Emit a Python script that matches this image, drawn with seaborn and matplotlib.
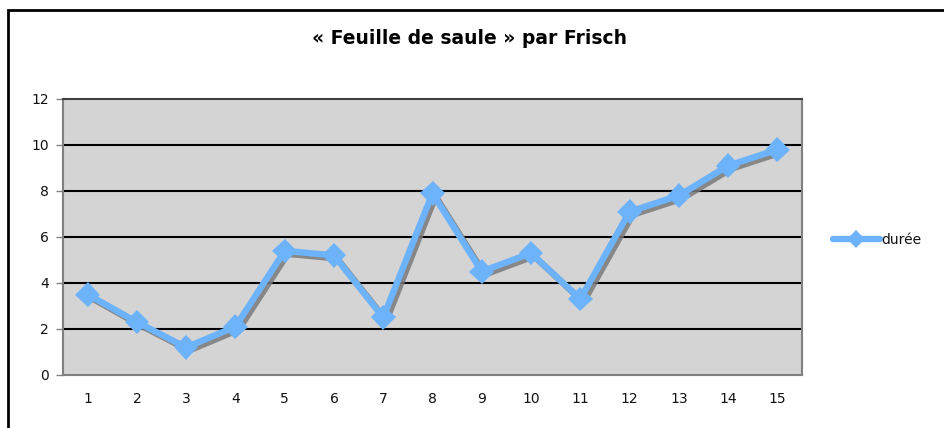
import matplotlib
matplotlib.use("Agg")
import matplotlib.pyplot as plt
import matplotlib.patheffects as pe
from matplotlib.ticker import FixedLocator
from matplotlib.patches import Rectangle
from matplotlib.lines import Line2D
import seaborn as sns
import pandas as pd

categories = list(range(1, 16))
duree = [3.5, 2.3, 1.2, 2.1, 5.4, 5.2, 2.5, 7.9, 4.5, 5.3, 3.3, 7.1, 7.8, 9.1, 9.8]
yticks = [0, 2, 4, 6, 8, 10, 12]
title = "« Feuille de saule » par Frisch"
series_name = "durée"

sns.set_theme(style="white")
plt.rcParams['font.family'] = ['DejaVu Sans']

W, H = 944, 428
fig = plt.figure(figsize=(W / 100, H / 100), dpi=100)
ax = fig.add_axes([63 / W, 1 - 375 / H, (802 - 63) / W, (375 - 99) / H])

df = pd.DataFrame({"x": categories, "y": duree})
color = "#6db3fb"
shadow = [pe.SimpleLineShadow(offset=(2.2, -2.2), shadow_color="#7a7a7a", alpha=0.85), pe.Normal()]
sns.lineplot(data=df, x="x", y="y", ax=ax, color=color, linewidth=4.6,
             marker="D", markersize=12.5, markeredgewidth=0, legend=False)
for ln in ax.get_lines():
    ln.set_path_effects(shadow)

ax.set_facecolor("#d4d4d4")
ax.set_xlim(0.5, 15.5)
ax.set_ylim(0, 12)
ax.set_yticks(yticks)
ax.set_yticklabels([str(v) for v in yticks], fontsize=10, color="#111111")
ax.set_xticks(categories)
ax.set_xticklabels([str(c) for c in categories], fontsize=10, color="#111111")
ax.xaxis.set_minor_locator(FixedLocator([c + 0.5 for c in [0] + categories]))
ax.tick_params(axis="x", which="major", length=0, pad=12)
ax.tick_params(axis="x", which="minor", length=5, color="#808080", width=1, direction="out")
ax.tick_params(axis="y", which="major", length=5, color="#808080", width=1, direction="out", left=True, pad=5)
ax.set_xlabel("")
ax.set_ylabel("")

for v in yticks[1:-1]:
    ax.axhline(v, color="black", linewidth=1.5, zorder=1)
for side in ["left", "right", "top", "bottom"]:
    ax.spines[side].set_visible(True)
    ax.spines[side].set_color("#808080")
    ax.spines[side].set_linewidth(1.5)
ax.spines["top"].set_color("#404040")

fig.text(470 / W, 1 - 38 / H, title, ha="center", va="center", fontsize=13.5,
         fontweight="bold", color="black")

handle = Line2D([], [], color=color, linewidth=4.6, marker="D", markersize=9, markeredgewidth=0)
fig.legend([handle], [series_name], loc="center left", bbox_to_anchor=(820 / W, 1 - 240 / H),
           frameon=False, fontsize=10, handlelength=3.4, handletextpad=0.1, labelcolor="#111111")

fig.patches.append(Rectangle((8 / W, -0.1), 1.2, (428 - 10) / H + 0.1, transform=fig.transFigure,
                             fill=False, edgecolor="black", linewidth=2))

fig.savefig("out.png", dpi=100)
